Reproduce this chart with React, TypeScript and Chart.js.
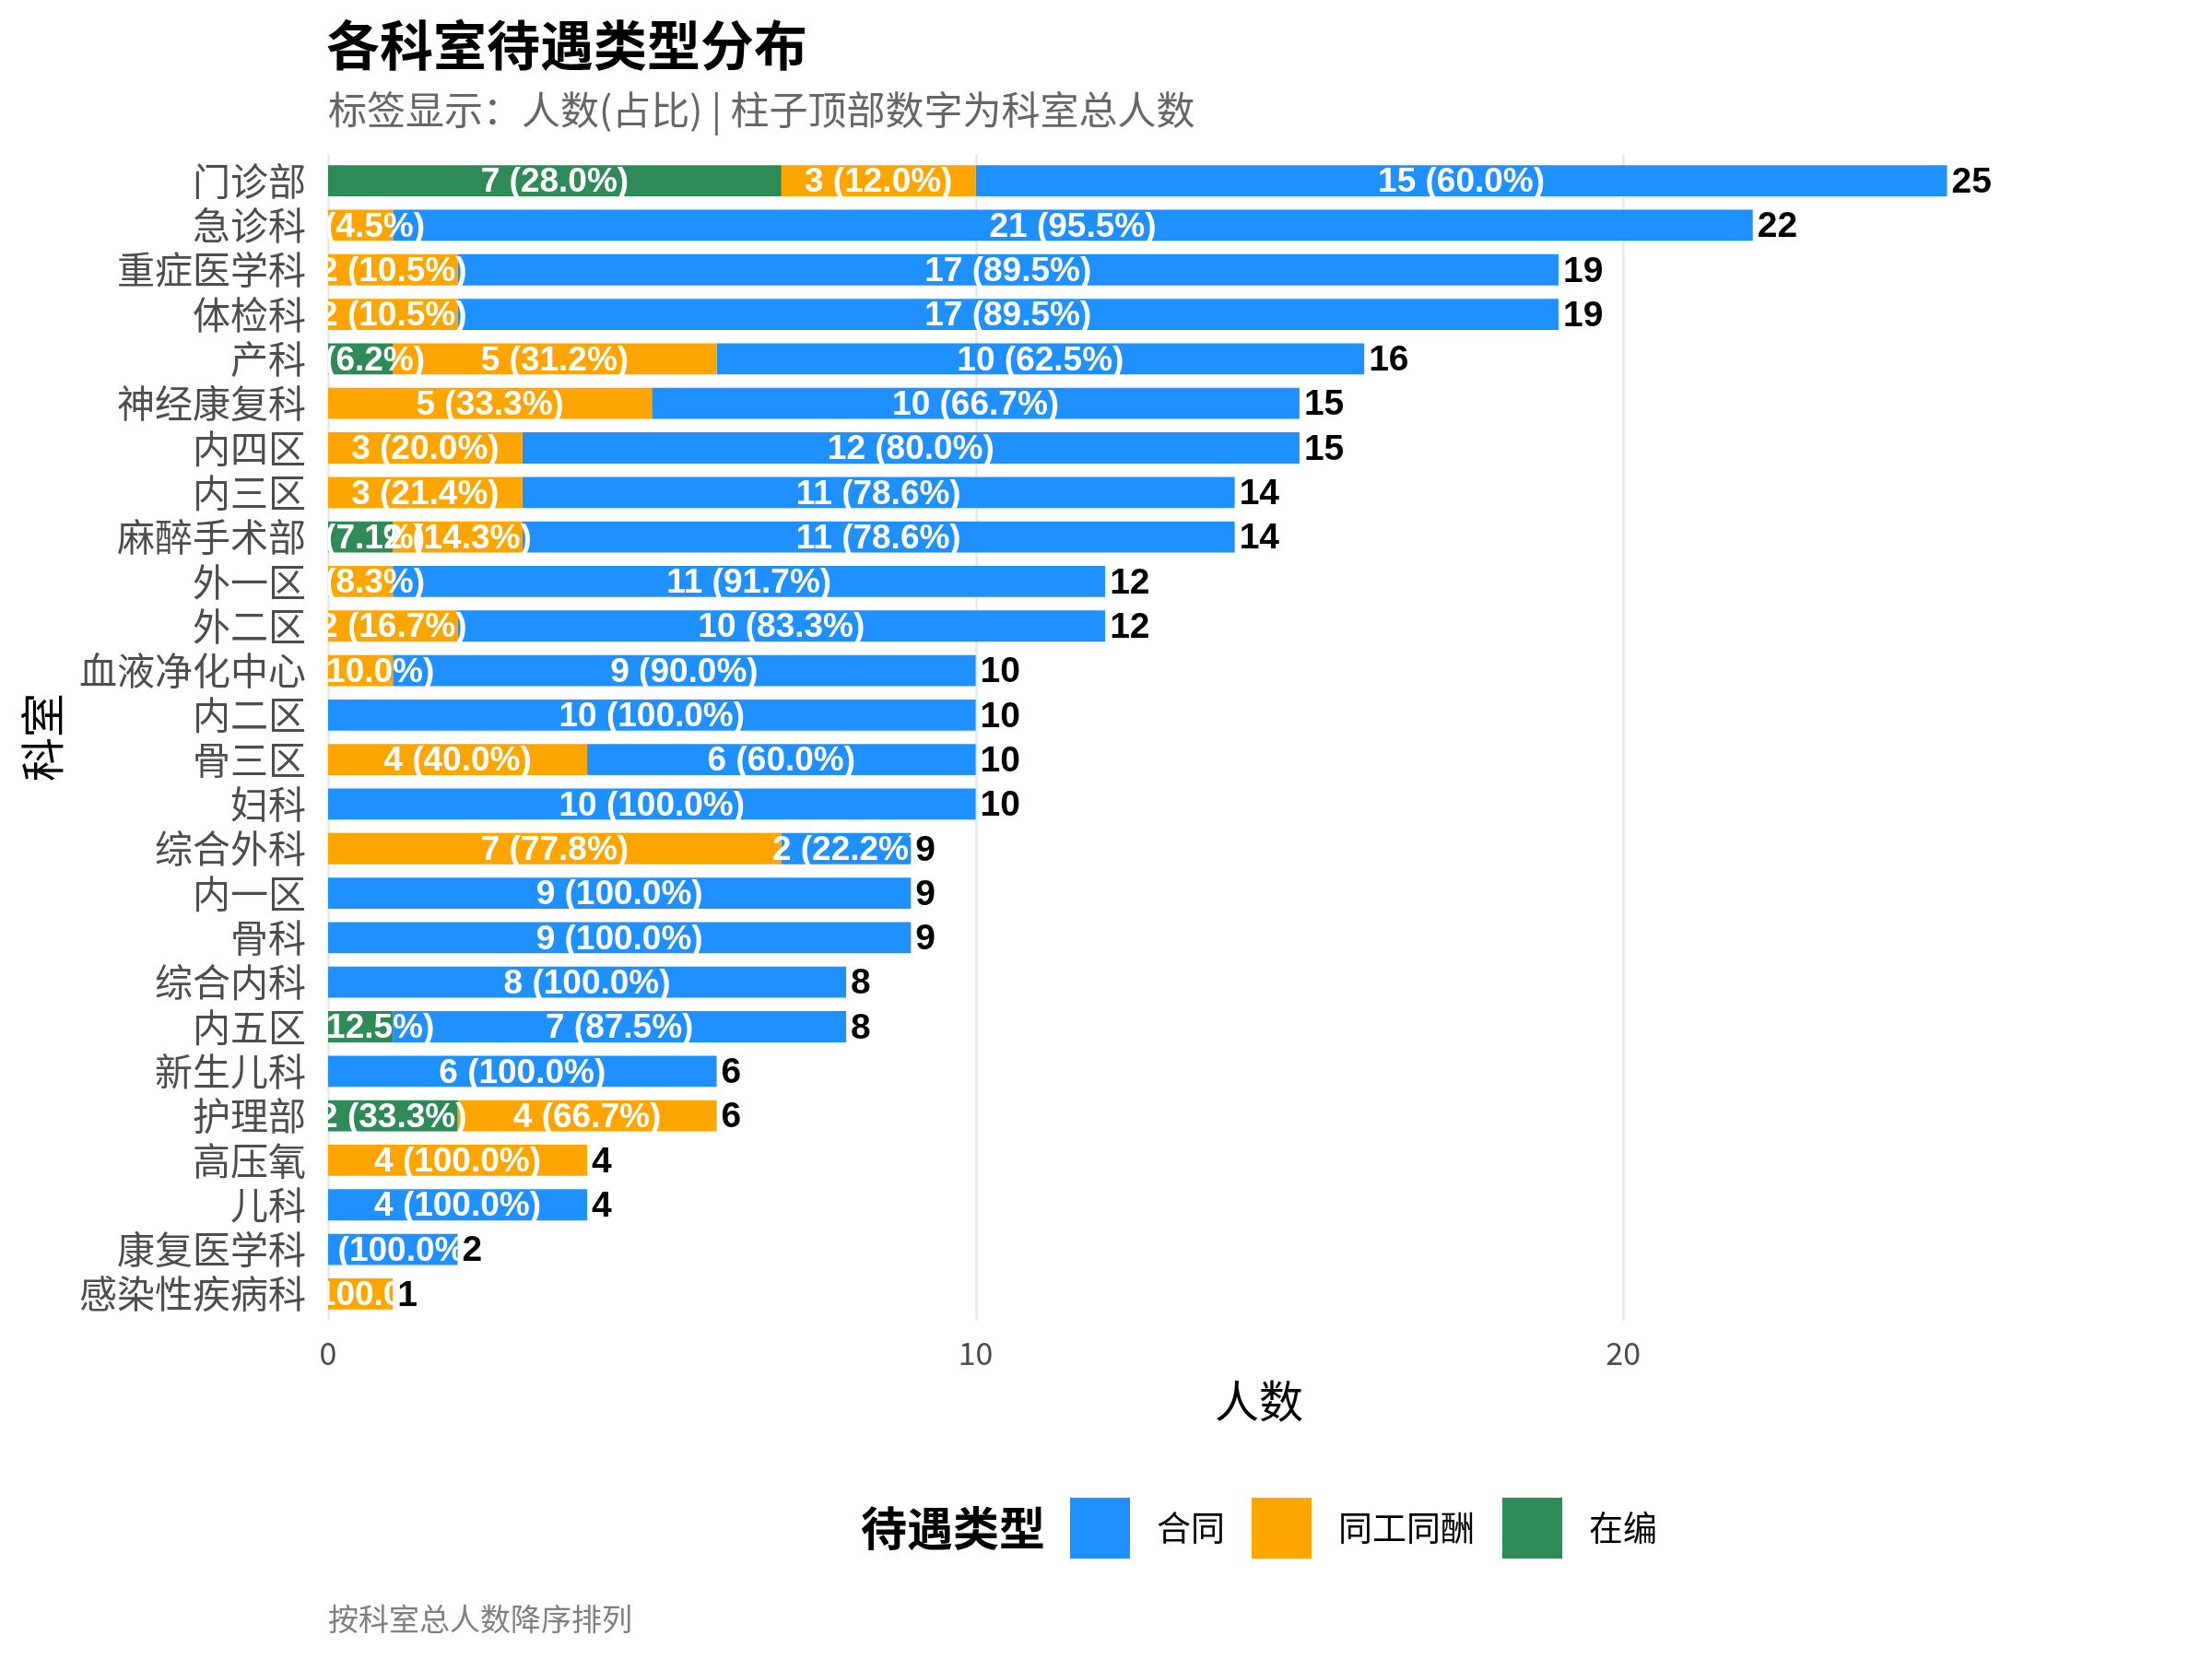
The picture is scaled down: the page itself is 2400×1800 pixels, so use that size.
import React, { useEffect, useRef } from "react";
import { Chart, registerables } from "chart.js";

Chart.register(...registerables);

// 科室（按总人数降序）
const departments = [
  "门诊部", "急诊科", "重症医学科", "体检科", "产科", "神经康复科", "内四区", "内三区",
  "麻醉手术部", "外一区", "外二区", "血液净化中心", "内二区", "骨三区", "妇科", "综合外科",
  "内一区", "骨科", "综合内科", "内五区", "新生儿科", "护理部", "高压氧", "儿科",
  "康复医学科", "感染性疾病科",
];

// 各待遇类型人数
const onPayroll = [7, 0, 0, 0, 1, 0, 0, 0, 1, 0, 0, 0, 0, 0, 0, 0, 0, 0, 0, 1, 0, 2, 0, 0, 0, 0]; // 在编
const equalPay = [3, 1, 2, 2, 5, 5, 3, 3, 2, 1, 2, 1, 0, 4, 0, 7, 0, 0, 0, 0, 0, 4, 4, 0, 0, 1]; // 同工同酬
const contract = [15, 21, 17, 17, 10, 10, 12, 11, 11, 11, 10, 9, 10, 6, 10, 2, 9, 9, 8, 7, 6, 0, 0, 4, 2, 0]; // 合同

const seriesNames = ["在编", "同工同酬", "合同"];
const seriesColors = ["#2E8B57", "#FFA500", "#1E90FF"];
const legendOrder = ["合同", "同工同酬", "在编"];

const xTicks = [0, 10, 20];
const xMax = 28.75;

const CJK = '"Noto Sans CJK SC", "Noto Sans", sans-serif';
const LATIN = '"Liberation Sans", Arial, sans-serif';

const totals = departments.map((_, i) => onPayroll[i] + equalPay[i] + contract[i]);

// 一位小数百分比，五舍六入取偶
function pctText(v: number, total: number): string {
  const tenths = (v * 1000) / total;
  let r = Math.floor(tenths);
  const frac = tenths - r;
  if (Math.abs(frac - 0.5) < 1e-9) {
    if (r % 2 === 1) r += 1;
  } else if (frac > 0.5) {
    r += 1;
  }
  return (r / 10).toFixed(1);
}

const decorPlugin = {
  id: "decor",
  beforeDatasetsDraw(chart: any) {
    const { ctx, chartArea, scales } = chart;
    const step = (chartArea.bottom - chartArea.top) / departments.length;
    const top = chartArea.top - 0.1 * step;
    const bottom = chartArea.bottom + 0.1 * step;
    ctx.save();
    ctx.strokeStyle = "#E8E8E8";
    ctx.lineWidth = 2.5;
    for (const t of xTicks) {
      const x = Math.round(scales.x.getPixelForValue(t)) + 0.5;
      ctx.beginPath();
      ctx.moveTo(x, top);
      ctx.lineTo(x, bottom);
      ctx.stroke();
    }
    ctx.restore();
  },
  afterDatasetsDraw(chart: any) {
    const { ctx, chartArea, scales } = chart;
    // 段内标签：人数(占比)
    ctx.save();
    ctx.beginPath();
    ctx.rect(chartArea.left, chartArea.top - 40, chartArea.right - chartArea.left, chartArea.bottom - chartArea.top + 80);
    ctx.clip();
    ctx.font = `bold 37px ${LATIN}`;
    ctx.fillStyle = "#FFFFFF";
    ctx.textAlign = "center";
    ctx.textBaseline = "middle";
    chart.data.datasets.forEach((ds: any, di: number) => {
      const meta = chart.getDatasetMeta(di);
      ds.data.forEach((v: number, j: number) => {
        if (!v) return;
        const bar: any = meta.data[j];
        const cx = (bar.x + bar.base) / 2;
        ctx.fillText(`${v} (${pctText(v, totals[j])}%)`, cx, bar.y + 2);
      });
    });
    ctx.restore();

    // 柱顶总人数
    ctx.save();
    ctx.font = `bold 39px ${LATIN}`;
    ctx.fillStyle = "#000000";
    ctx.textAlign = "left";
    ctx.textBaseline = "middle";
    totals.forEach((t, j) => {
      const x = scales.x.getPixelForValue(t) + 5;
      const y = scales.y.getPixelForValue(j);
      ctx.fillText(String(t), x, y + 2);
    });
    ctx.restore();
  },
  afterDraw(chart: any) {
    const { ctx, chartArea } = chart;
    const left = chartArea.left;
    ctx.save();
    ctx.textBaseline = "middle";
    ctx.textAlign = "left";

    // 标题与副标题
    ctx.fillStyle = "#000000";
    ctx.font = `bold 58px ${CJK}`;
    ctx.fillText("各科室待遇类型分布", left - 2, 49);
    ctx.fillStyle = "#666666";
    ctx.font = `42px ${CJK}`;
    ctx.fillText("标签显示：人数(占比) | 柱子顶部数字为科室总人数", left, 119);

    // 坐标轴标题
    ctx.fillStyle = "#000000";
    ctx.font = `48px ${CJK}`;
    ctx.textAlign = "center";
    ctx.fillText("人数", (chartArea.left + chartArea.right) / 2, 1520);
    ctx.save();
    ctx.translate(46, 800);
    ctx.rotate(-Math.PI / 2);
    ctx.fillText("科室", 0, 0);
    ctx.restore();

    // 图例
    const legendY = 1658;
    ctx.textAlign = "left";
    ctx.font = `bold 50px ${CJK}`;
    ctx.fillText("待遇类型", 934, legendY);
    const keyX = [1161, 1358, 1630];
    ctx.font = `37px ${CJK}`;
    legendOrder.forEach((name, k) => {
      const idx = seriesNames.indexOf(name);
      ctx.fillStyle = seriesColors[idx];
      ctx.fillRect(keyX[k], 1625, 65, 66);
      ctx.fillStyle = "#000000";
      ctx.fillText(name, keyX[k] + 94, legendY);
    });

    // 说明文字
    ctx.fillStyle = "#808080";
    ctx.font = `33px ${CJK}`;
    ctx.fillText("按科室总人数降序排列", left, 1756);
    ctx.restore();
  },
};

export default function App() {
  const canvasRef = useRef<HTMLCanvasElement | null>(null);

  useEffect(() => {
    const canvas = canvasRef.current;
    if (!canvas) return;
    const seriesData = [onPayroll, equalPay, contract];
    const chart = new Chart(canvas, {
      type: "bar",
      data: {
        labels: departments,
        datasets: seriesNames.map((name, i) => ({
          label: name,
          data: seriesData[i],
          backgroundColor: seriesColors[i],
          borderWidth: 0,
          barPercentage: 0.7,
          categoryPercentage: 1.0,
        })),
      },
      options: {
        indexAxis: "y",
        responsive: false,
        animation: false,
        devicePixelRatio: 1,
        layout: { padding: { top: 172, right: 24, left: 0, bottom: 0 } },
        plugins: {
          legend: { display: false },
          title: { display: false },
          tooltip: { enabled: false },
        },
        scales: {
          x: {
            type: "linear",
            stacked: true,
            min: 0,
            max: xMax,
            afterBuildTicks: (scale: any) => {
              scale.ticks = xTicks.map((v) => ({ value: v }));
            },
            grid: { display: false, drawTicks: false },
            border: { display: false },
            ticks: {
              font: { family: CJK, size: 34 },
              color: "#4D4D4D",
              padding: 20,
              maxRotation: 0,
            },
            afterFit: (scale: any) => {
              scale.height = 1800 - 1428;
            },
          },
          y: {
            type: "category",
            stacked: true,
            offset: true,
            grid: { display: false, drawTicks: false },
            border: { display: false },
            ticks: {
              autoSkip: false,
              font: { family: CJK, size: 41 },
              color: "#4D4D4D",
              padding: 24,
            },
            afterFit: (scale: any) => {
              scale.width = 356;
            },
          },
        },
      } as any,
      plugins: [decorPlugin],
    });
    return () => chart.destroy();
  }, []);

  return (
    <div style={{ position: "fixed", left: 0, top: 0, width: 2400, height: 1800, background: "#FFFFFF" }}>
      <canvas ref={canvasRef} width={2400} height={1800} style={{ width: 2400, height: 1800, display: "block" }} />
    </div>
  );
}
